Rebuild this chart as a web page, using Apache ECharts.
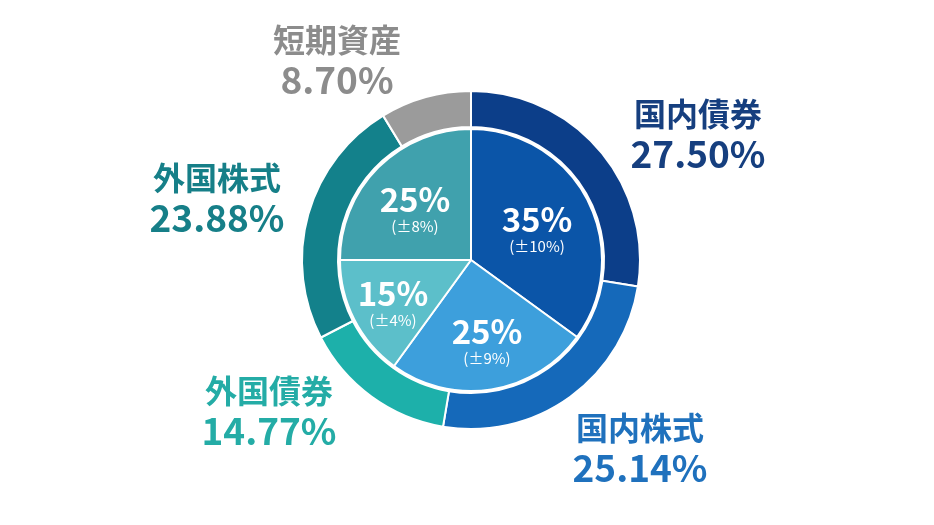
<!DOCTYPE html>
<html>
<head>
<meta charset="utf-8">
<script src="https://cdn.jsdelivr.net/npm/echarts@6/dist/echarts.min.js"></script>
<style>
html,body{margin:0;padding:0;background:#fff;}
#c{width:934px;height:525px;}
</style>
</head>
<body>
<div id="c"></div>
<script>
// Inner ring: policy asset mix (base allocation and allowed range)
const innerNames = ['国内債券', '国内株式', '外国債券', '外国株式'];
const innerValues = [35, 25, 15, 25];
const innerRanges = ['(±10%)', '(±9%)', '(±4%)', '(±8%)'];
// Outer ring: actual allocation
const outerNames = ['国内債券', '国内株式', '外国債券', '外国株式', '短期資産'];
const outerValues = [27.50, 25.14, 14.77, 23.88, 8.70];

const innerColors = ['#0b55a8', '#3d9fdc', '#5cbfca', '#40a1ad'];
const outerColors = ['#0c3e89', '#1569ba', '#1db0aa', '#13818b', '#9b9b9b'];
const labelColors = ['#163f7f', '#1f71bd', '#24aca6', '#167f88', '#8c8c8c'];

// label anchor points (pixels)
const innerLabelPos = [[537, 229], [487, 341], [393, 303], [415, 209]];
const outerLabelPos = [[698, 134], [640, 448], [269, 411], [217, 198], [337, 60]];

const FONT = '"Noto Sans CJK JP", "Noto Sans", sans-serif';

const chart = echarts.init(document.getElementById('c'), null, {renderer: 'canvas'});

const innerData = innerValues.map((v, i) => ({
  name: innerNames[i], value: v, range: innerRanges[i],
  itemStyle: {color: innerColors[i]}
}));
const outerData = outerValues.map((v, i) => ({
  name: outerNames[i], value: v,
  itemStyle: {color: outerColors[i]},
  label: {
    rich: {
      n: {fontSize: 32, fontWeight: 'bold', color: labelColors[i], fontFamily: FONT, lineHeight: 39, align: 'center'},
      v: {fontSize: 37, fontWeight: 'bold', color: labelColors[i], fontFamily: FONT, lineHeight: 40, align: 'center'}
    }
  }
}));

chart.setOption({
  backgroundColor: '#ffffff',
  animation: false,
  series: [
    {
      type: 'pie',
      center: [471, 260],
      radius: [0, 131],
      startAngle: 90,
      clockwise: true,
      data: innerData,
      itemStyle: {borderColor: '#ffffff', borderWidth: 2},
      label: {
        show: true,
        position: 'inside',
        formatter: p => '{m|' + p.value + '%}\n{s|' + p.data.range + '}',
        rich: {
          m: {fontSize: 33, fontWeight: 'bold', color: '#ffffff', fontFamily: FONT, lineHeight: 34, align: 'center'},
          s: {fontSize: 15, color: '#ffffff', fontFamily: FONT, lineHeight: 20, align: 'center'}
        }
      },
      labelLine: {show: false},
      labelLayout: p => ({
        x: innerLabelPos[p.dataIndex][0],
        y: innerLabelPos[p.dataIndex][1],
        align: 'center',
        verticalAlign: 'middle'
      }),
      emphasis: {disabled: true}
    },
    {
      type: 'pie',
      center: [471, 260],
      radius: [133, 169],
      startAngle: 90,
      clockwise: true,
      data: outerData,
      itemStyle: {borderColor: '#ffffff', borderWidth: 2},
      label: {
        show: true,
        position: 'outside',
        formatter: p => '{n|' + p.name + '}\n{v|' + p.value.toFixed(2) + '%}'
      },
      labelLine: {show: false},
      labelLayout: p => ({
        x: outerLabelPos[p.dataIndex][0],
        y: outerLabelPos[p.dataIndex][1],
        align: 'center',
        verticalAlign: 'middle'
      }),
      emphasis: {disabled: true}
    }
  ]
});
</script>
</body>
</html>
